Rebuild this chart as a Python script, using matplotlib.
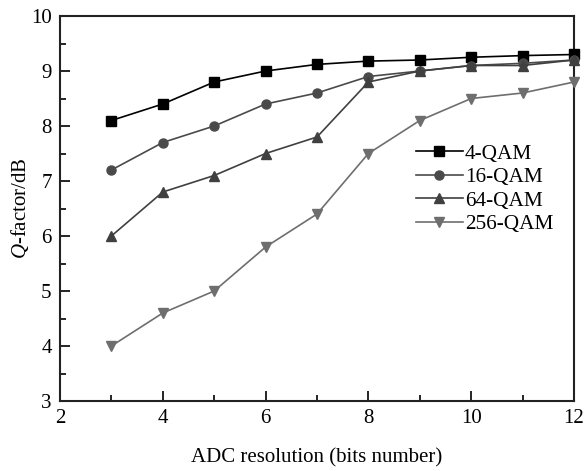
import matplotlib
matplotlib.use("Agg")
import matplotlib.pyplot as plt
from matplotlib.ticker import MultipleLocator

plt.rcParams["font.family"] = ["Liberation Serif", "DejaVu Serif"]
plt.rcParams["mathtext.fontset"] = "custom"
plt.rcParams["mathtext.rm"] = "Liberation Serif"
plt.rcParams["mathtext.it"] = "Liberation Serif:italic"

bits = [3, 4, 5, 6, 7, 8, 9, 10, 11, 12]
qam4 = [8.1, 8.4, 8.8, 9.0, 9.12, 9.18, 9.2, 9.25, 9.28, 9.3]
qam16 = [7.2, 7.7, 8.0, 8.4, 8.6, 8.9, 9.0, 9.1, 9.14, 9.2]
qam64 = [6.0, 6.8, 7.1, 7.5, 7.8, 8.8, 9.0, 9.1, 9.1, 9.2]
qam256 = [4.0, 4.6, 5.0, 5.8, 6.4, 7.5, 8.1, 8.5, 8.6, 8.8]

series = [
    ("4-QAM", qam4, "s", "#000000"),
    ("16-QAM", qam16, "o", "#4a4a4a"),
    ("64-QAM", qam64, "^", "#404040"),
    ("256-QAM", qam256, "v", "#6e6e6e"),
]

fig = plt.figure(figsize=(5.86, 4.71), dpi=100)
ax = fig.add_axes([60 / 586, 1 - 401 / 471, 514 / 586, 385 / 471])

for label, vals, mk, col in series:
    ax.plot(bits, vals, marker=mk, color=col, markersize=6.5, linewidth=1.2,
            label=label, clip_on=False, zorder=3)

ax.set_xlim(2, 12)
ax.set_ylim(3, 10)
ax.xaxis.set_major_locator(MultipleLocator(2))
ax.xaxis.set_minor_locator(MultipleLocator(1))
ax.yaxis.set_major_locator(MultipleLocator(1))
ax.yaxis.set_minor_locator(MultipleLocator(0.5))
ax.tick_params(which="both", direction="in", top=False, right=False,
               labelsize=15, width=1.2, pad=6)
ax.tick_params(which="major", length=7)
ax.tick_params(which="minor", length=4)
for sp in ax.spines.values():
    sp.set_linewidth(1.5)
    sp.set_color("#222222")

ax.set_xlabel("ADC resolution (bits number)", fontsize=15, labelpad=14)
ax.set_ylabel("$Q$-factor/dB", fontsize=15, labelpad=0)

ax.legend(loc="upper left", bbox_to_anchor=(356 / 514, (401 - 144) / 385),
          frameon=False, fontsize=15.3, handlelength=2.2, handletextpad=0.1,
          labelspacing=0.17, borderaxespad=0, borderpad=0)

fig.savefig("out.png", dpi=100)
